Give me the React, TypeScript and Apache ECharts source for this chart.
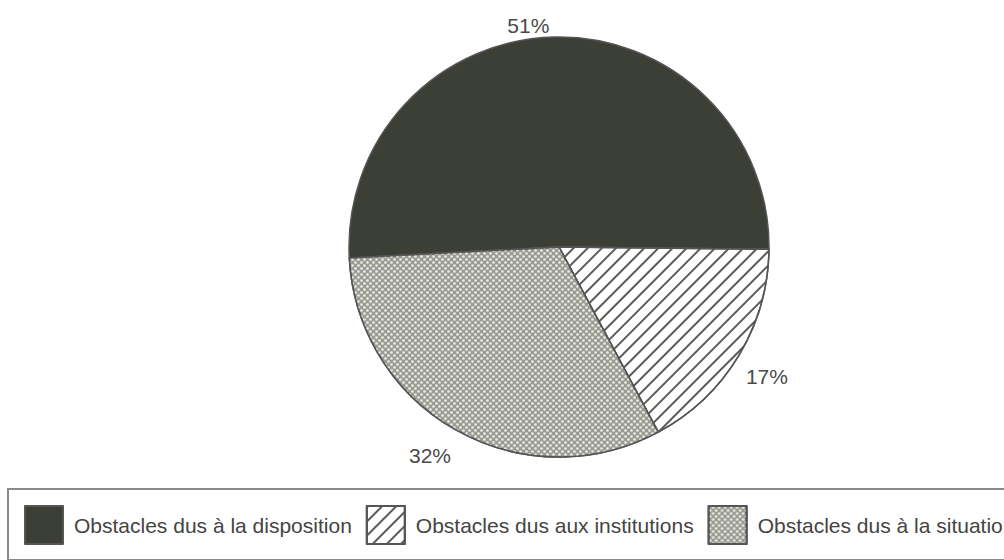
import React, { useEffect, useRef } from "react";
import * as echarts from "echarts";

const categories = [
  "Obstacles dus à la disposition",
  "Obstacles dus aux institutions",
  "Obstacles dus à la situation",
];
const values = [51, 17, 32];

export default function App() {
  const ref = useRef<HTMLDivElement>(null);
  useEffect(() => {
    if (!ref.current) return;
    const chart = echarts.init(ref.current, null, { renderer: "svg" });
    const styles = [
      { color: "#3c3f36" },
      {
        color: "#ffffff",
        decal: {
          symbol: "rect",
          symbolSize: 1,
          dashArrayX: [1, 0],
          dashArrayY: [2, 8],
          rotation: -Math.PI / 4,
          color: "#5a5d57",
        },
      },
      {
        color: "#9a9b93",
        decal: {
          symbol: "circle",
          symbolSize: 0.9,
          dashArrayX: [
            [3, 3],
            [0, 3, 3, 0],
          ],
          dashArrayY: [3, 0],
          color: "#ebebe5",
        },
      },
    ];
    const labelShift = [
      { dx: 0, dy: 0 },
      { dx: -8, dy: 14 },
      { dx: 6, dy: 15 },
    ];
    chart.setOption({
      animation: false,
      backgroundColor: "#ffffff",
      legend: {
        left: 8,
        top: 489,
        width: 1400,
        orient: "horizontal",
        icon: "rect",
        itemWidth: 38,
        itemHeight: 38,
        itemGap: 14,
        padding: [16, 12, 15, 16],
        borderColor: "#8a8a8a",
        borderWidth: 2,
        data: categories,
        textStyle: {
          fontFamily: "'Liberation Sans', Arial, sans-serif",
          fontSize: 21,
          color: "#444444",
          padding: [0, 0, 0, 6],
        },
      },
      series: [
        {
          type: "pie",
          center: [559, 247],
          radius: 210,
          startAngle: 183,
          clockwise: true,
          avoidLabelOverlap: false,
          itemStyle: { borderColor: "#555555", borderWidth: 1.5 },
          label: {
            show: true,
            position: "outside",
            formatter: "{c}%",
            fontFamily: "'Liberation Sans', Arial, sans-serif",
            fontSize: 21,
            color: "#4a4a4a",
          },
          labelLine: { show: false, length: 12, length2: 0 },
          labelLayout: (p: any) => labelShift[p.dataIndex],
          data: categories.map((name, i) => ({
            name,
            value: values[i],
            itemStyle: styles[i],
          })),
        },
      ],
    });
    return () => chart.dispose();
  }, []);
  return (
    <div
      ref={ref}
      style={{ position: "fixed", left: 0, top: 0, width: 1004, height: 560 }}
    />
  );
}
